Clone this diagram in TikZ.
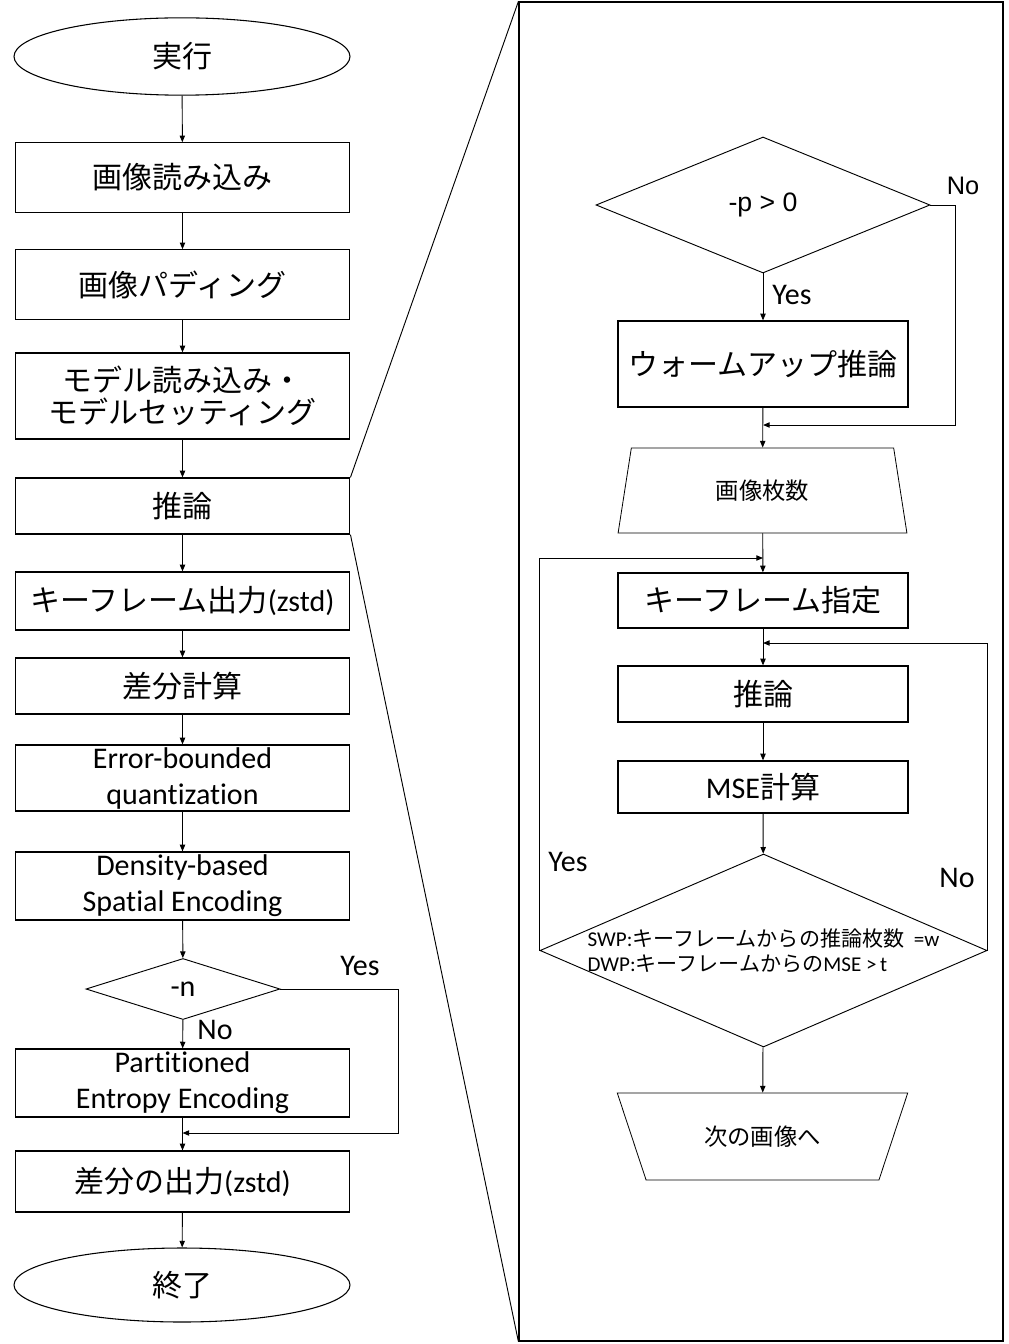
\documentclass[tikz,border=0pt]{standalone}
\usepackage{fontspec}
\setmainfont{Carlito}[Ligatures=CommonOff]
\newfontfamily\jpfont{Noto Sans CJK JP}
\newfontfamily\arialfont{Liberation Sans}
\usepackage{tikz}
\usetikzlibrary{shapes.geometric, arrows.meta, positioning, calc}
\tikzset{
  lbox/.style={rectangle, draw, minimum width=251pt, align=center,
    inner sep=1pt, font=\fontsize{22.5}{27}\selectfont, line width=0.9pt},
  rbox/.style={rectangle, draw, minimum width=217.5pt, align=center,
    inner sep=1pt, font=\fontsize{22.5}{27}\selectfont, line width=0.9pt},
  term/.style={ellipse, draw, minimum width=252pt, inner sep=0pt,
    font=\jpfont\fontsize{22.5}{27}\selectfont, line width=0.8pt},
  decide/.style={diamond, draw, inner sep=0pt, line width=0.7pt,
    font=\fontsize{22.5}{27}\selectfont},
  iobox/.style={trapezium, draw, trapezium stretches=true, inner sep=0pt,
    minimum width=218pt, font=\jpfont\fontsize{17.5}{20}\selectfont, line width=0.6pt},
  arrow/.style={-{Triangle[length=5pt, width=4pt]}, line width=0.7pt},
  line/.style={line width=0.7pt},
  tag/.style={font=\fontsize{22.5}{27}\selectfont}
}

\begin{document}
\begin{tikzpicture}[x=0.75pt, y=-0.75pt]
  \useasboundingbox (0,0) rectangle (1008,1344);
  % main flow
  \node[term, minimum height=58pt] (start) at (182,56.5) {実行};
  \node[lbox, minimum height=52pt] (read) at (182.5,177.5) {\jpfont 画像読み込み};
  \node[lbox, minimum height=52pt] (pad) at (182.5,284.5) {\jpfont 画像パディング};
  \node[lbox, minimum height=64.5pt, font=\fontsize{22.5}{23.5}\selectfont] (model) at (182.5,396)
       {\jpfont モデル読み込み・\\\jpfont モデルセッティング};
  \node[lbox, minimum height=42pt] (infer) at (182.5,506) {\jpfont 推論};
  \node[lbox, minimum height=43.5pt] (key) at (182.5,601) {{\jpfont キーフレーム出力}(zstd)};
  \node[lbox, minimum height=42pt] (diff) at (182.5,686) {\jpfont 差分計算};
  \node[lbox, minimum height=49.5pt] (ebq) at (182.5,778) {Error-bounded\\quantization};
  \node[lbox, minimum height=51pt] (dse) at (182.5,886) {Density-based\\Spatial Encoding};
  \node[decide, minimum width=145.5pt, minimum height=45.75pt] (ndec) at (183,989) {-n};
  \node[lbox, minimum height=51pt] (pee) at (182.5,1083) {Partitioned\\Entropy Encoding};
  \node[lbox, minimum height=45.75pt] (out) at (182.5,1181.5) {{\jpfont 差分の出力}(zstd)};
  \node[term, minimum height=55.5pt] (stop) at (182,1285) {終了};
  \coordinate (nj) at (182.5,1133);

  \draw[arrow] (start) -- (read);
  \draw[arrow] (read) -- (pad);
  \draw[arrow] (pad) -- (model);
  \draw[arrow] (model) -- (infer);
  \draw[arrow] (infer) -- (key);
  \draw[arrow] (key) -- (diff);
  \draw[arrow] (diff) -- (ebq);
  \draw[arrow] (ebq) -- (dse);
  \draw[arrow] (dse) -- (ndec);
  \draw[arrow] (ndec) -- (pee);
  \draw[arrow] (pee) -- (out);
  \draw[arrow] (out) -- (stop);
  \draw[arrow] (ndec.east) -- ++(118,0) |- (nj);
  \node[tag] at (360,966) {Yes};
  \node[tag] at (215,1030) {No};

  % detail of the inference step
  \node[draw, line width=0.9pt, inner sep=0pt, minimum width=363pt,
        minimum height=1004.25pt] (frame) at (761,671.5) {};
  \draw[line] (infer.north east) -- (frame.north west);
  \draw[line] (infer.south east) -- (frame.south west);

  \node[decide, minimum width=250.5pt, minimum height=102pt,
        font=\arialfont\fontsize{20}{24}\selectfont] (pdec) at (763,205) {-p > 0};
  \node[rbox, minimum height=64.5pt] (warm) at (763,364) {\jpfont ウォームアップ推論};
  \node[iobox, minimum height=63.75pt, trapezium left angle=77.7,
        trapezium right angle=77.7] (count) at (762.5,490.5) {画像枚数};
  \node[rbox, minimum height=41.25pt] (kf) at (763,600.5) {\jpfont キーフレーム指定};
  \node[rbox, minimum height=42pt] (inf2) at (763,694) {\jpfont 推論};
  \node[rbox, minimum height=39pt] (mse) at (763,787) {MSE{\jpfont 計算}};
  \node[decide, minimum width=335.25pt, minimum height=144.75pt,
        label={[align=left, font=\fontsize{15.8}{19}\selectfont]center:
        SWP:{\jpfont キーフレームからの推論枚数}\ \ =w\\
        DWP:{\jpfont キーフレームからの}MSE\ >\,t}] (cond) at (763.5,950.5) {};
  \node[iobox, minimum height=65.25pt, trapezium left angle=123.9,
        trapezium right angle=123.9] (next) at (762.5,1136.5) {次の画像へ};
  \coordinate (pj) at (763,425);
  \coordinate (kj) at (763,558);
  \coordinate (ij) at (763,643);

  \draw[arrow] (pdec) -- (warm);
  \draw[arrow] (warm) -- (count);
  \draw[arrow] (pdec.east) -- ++(25,0) |- (pj);
  \draw[arrow] (count) -- (kf);
  \draw[arrow] (kf) -- (inf2);
  \draw[arrow] (inf2) -- (mse);
  \draw[arrow] (mse) -- (cond);
  \draw[arrow] (cond.west) |- (kj);
  \draw[arrow] (cond.east) |- (ij);
  \draw[arrow] (cond) -- (next);
  \node[font=\arialfont\fontsize{19}{22}\selectfont] at (963,186) {No};
  \node[tag] at (792,295) {Yes};
  \node[tag] at (568,862) {Yes};
  \node[tag] at (957,878) {No};
\end{tikzpicture}
\end{document}
